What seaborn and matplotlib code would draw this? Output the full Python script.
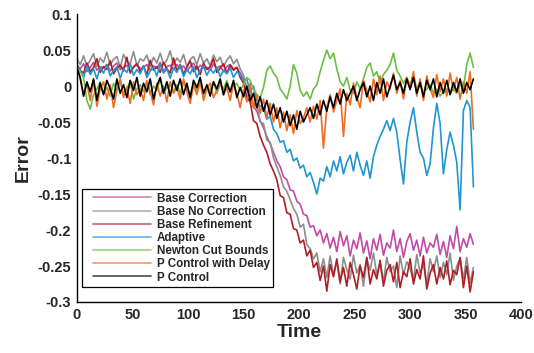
import numpy as np
import pandas as pd
import matplotlib
matplotlib.use("Agg")
import matplotlib.pyplot as plt
import seaborn as sns
from matplotlib.lines import Line2D

sns.set_style("white")
plt.rcParams["font.family"] = ["Liberation Sans", "DejaVu Sans"]
plt.rcParams["font.weight"] = "bold"

time_s = np.arange(0, 358, 3)

base_correction = [
    0.028, 0.024, 0.031, 0.020, 0.026, 0.033, 0.022, 0.027, 0.025, 0.030,
    0.021, 0.028, 0.032, 0.023, 0.026, 0.029, 0.020, 0.027, 0.031, 0.024,
    0.026, 0.030, 0.022, 0.028, 0.025, 0.033, 0.021, 0.027, 0.029, 0.023,
    0.030, 0.024, 0.028, 0.021, 0.027, 0.032, 0.023, 0.029, 0.025, 0.026,
    0.022, 0.031, 0.025, 0.028, 0.020, 0.027, 0.030, 0.024, 0.026, 0.018,
    0.010, -0.005, -0.015, -0.028, -0.035, -0.048, -0.058, -0.070, -0.080, -0.092,
    -0.104, -0.112, -0.126, -0.130, -0.144, -0.146, -0.160, -0.164, -0.178, -0.180,
    -0.196, -0.194, -0.208, -0.200, -0.218, -0.205, -0.225, -0.210, -0.230, -0.202,
    -0.222, -0.208, -0.236, -0.214, -0.226, -0.204, -0.232, -0.215, -0.240, -0.212,
    -0.228, -0.206, -0.235, -0.218, -0.225, -0.200, -0.230, -0.212, -0.238, -0.216,
    -0.205, -0.228, -0.214, -0.236, -0.210, -0.232, -0.218, -0.224, -0.206, -0.234,
    -0.216, -0.238, -0.208, -0.226, -0.195, -0.230, -0.212, -0.224, -0.205, -0.220,
]

base_no_correction = [
    0.038, 0.030, 0.042, 0.028, 0.036, 0.045, 0.027, 0.039, 0.033, 0.047,
    0.029, 0.037, 0.041, 0.026, 0.044, 0.034, 0.031, 0.048, 0.028, 0.038,
    0.035, 0.043, 0.027, 0.040, 0.032, 0.046, 0.030, 0.036, 0.049, 0.029,
    0.039, 0.033, 0.044, 0.027, 0.037, 0.041, 0.030, 0.045, 0.032, 0.038,
    0.028, 0.043, 0.034, 0.040, 0.027, 0.036, 0.042, 0.031, 0.037, 0.024,
    0.015, -0.003, -0.010, -0.030, -0.025, -0.050, -0.052, -0.075, -0.078, -0.100,
    -0.112, -0.124, -0.140, -0.146, -0.158, -0.170, -0.178, -0.196, -0.192, -0.220,
    -0.226, -0.240, -0.232, -0.258, -0.240, -0.266, -0.236, -0.262, -0.244, -0.275,
    -0.238, -0.255, -0.268, -0.235, -0.260, -0.248, -0.278, -0.240, -0.256, -0.232,
    -0.262, -0.246, -0.272, -0.238, -0.258, -0.250, -0.280, -0.236, -0.262, -0.244,
    -0.254, -0.270, -0.234, -0.260, -0.248, -0.276, -0.240, -0.258, -0.236, -0.266,
    -0.245, -0.262, -0.232, -0.270, -0.250, -0.240, -0.268, -0.238, -0.274, -0.252,
]

base_refinement = [
    0.030, 0.022, 0.018, 0.032, 0.020, 0.026, 0.038, 0.019, 0.027, 0.023,
    0.035, 0.017, 0.025, 0.029, 0.021, 0.040, 0.018, 0.026, 0.031, 0.020,
    0.028, 0.016, 0.036, 0.022, 0.027, 0.019, 0.033, 0.024, 0.018, 0.039,
    0.021, 0.030, 0.017, 0.026, 0.035, 0.020, 0.028, 0.016, 0.032, 0.023,
    0.027, 0.038, 0.019, 0.025, 0.031, 0.018, 0.029, 0.022, 0.026, 0.012,
    0.004, -0.016, -0.022, -0.048, -0.052, -0.070, -0.082, -0.092, -0.108, -0.118,
    -0.130, -0.152, -0.155, -0.176, -0.178, -0.198, -0.200, -0.218, -0.214, -0.236,
    -0.228, -0.252, -0.245, -0.270, -0.250, -0.285, -0.248, -0.265, -0.240, -0.272,
    -0.252, -0.278, -0.245, -0.262, -0.282, -0.250, -0.266, -0.238, -0.275, -0.255,
    -0.268, -0.242, -0.278, -0.256, -0.248, -0.272, -0.245, -0.280, -0.258, -0.265,
    -0.240, -0.275, -0.255, -0.268, -0.236, -0.282, -0.260, -0.248, -0.275, -0.252,
    -0.268, -0.243, -0.276, -0.256, -0.262, -0.238, -0.280, -0.250, -0.286, -0.258,
]

adaptive = [
    0.030, 0.022, 0.012, 0.028, 0.016, 0.024, 0.010, 0.026, 0.018, 0.030,
    0.014, 0.022, 0.027, 0.011, 0.024, 0.019, 0.031, 0.015, 0.023, 0.017,
    0.028, 0.012, 0.021, 0.026, 0.014, 0.030, 0.018, 0.024, 0.011, 0.025,
    0.019, 0.029, 0.013, 0.023, 0.017, 0.027, 0.012, 0.022, 0.028, 0.015,
    0.024, 0.018, 0.026, 0.013, 0.022, 0.017, 0.025, 0.012, 0.020, 0.016,
    0.008, 0.010, -0.008, 0.000, -0.020, -0.028, -0.030, -0.046, -0.042, -0.060,
    -0.066, -0.078, -0.076, -0.092, -0.088, -0.104, -0.100, -0.114, -0.110, -0.126,
    -0.120, -0.134, -0.150, -0.128, -0.132, -0.112, -0.126, -0.104, -0.118, -0.098,
    -0.122, -0.106, -0.096, -0.118, -0.092, -0.110, -0.124, -0.104, -0.128, -0.098,
    -0.082, -0.070, -0.060, -0.048, -0.062, -0.045, -0.064, -0.102, -0.136, -0.078,
    -0.050, -0.030, -0.064, -0.092, -0.100, -0.124, -0.108, -0.058, -0.024, -0.052,
    -0.122, -0.088, -0.064, -0.082, -0.106, -0.172, -0.034, -0.020, -0.030, -0.140,
]

newton_cut_bounds = [
    0.025, 0.020, 0.012, -0.020, -0.032, -0.012, -0.004, 0.006, -0.010, -0.002,
    -0.014, 0.004, -0.006, 0.008, -0.012, -0.002, 0.006, -0.018, -0.004, 0.002,
    -0.008, 0.006, -0.012, 0.000, -0.006, 0.010, -0.010, -0.002, 0.004, -0.008,
    0.002, -0.010, 0.006, -0.004, -0.012, 0.004, -0.006, 0.008, -0.014, 0.000,
    -0.006, 0.006, -0.010, 0.002, -0.004, 0.008, -0.008, 0.000, 0.004, -0.006,
    0.002, 0.012, 0.008, -0.004, -0.012, -0.016, -0.002, 0.022, 0.028, 0.018,
    0.012, -0.004, -0.010, -0.018, 0.000, 0.030, 0.018, -0.006, -0.014, -0.008,
    -0.018, -0.004, 0.002, 0.020, 0.036, 0.050, 0.038, 0.046, 0.024, 0.006,
    0.000, 0.012, -0.006, -0.010, 0.006, -0.004, 0.010, 0.026, 0.032, 0.014,
    0.020, 0.004, 0.016, 0.022, 0.030, 0.046, 0.022, 0.014, 0.004, 0.012,
    0.000, 0.016, -0.004, 0.006, -0.010, -0.004, 0.002, -0.010, -0.004, -0.014,
    -0.008, -0.004, -0.010, -0.004, -0.010, 0.002, -0.004, 0.030, 0.046, 0.026,
]

p_control_delay = [
    0.028, 0.010, -0.012, 0.004, -0.020, 0.008, -0.028, -0.004, 0.006, -0.018,
    0.002, -0.030, -0.006, 0.010, -0.016, -0.002, -0.024, 0.006, -0.012, -0.004,
    -0.020, 0.008, -0.008, -0.026, 0.004, -0.014, 0.000, -0.022, 0.006, -0.010,
    -0.002, -0.018, 0.010, -0.008, -0.024, 0.002, -0.012, 0.006, -0.020, -0.004,
    0.004, -0.016, -0.006, 0.008, -0.012, -0.002, -0.020, 0.004, -0.010, -0.030,
    -0.005, -0.022, 0.004, -0.030, -0.012, -0.038, -0.018, -0.044, -0.024, -0.050,
    -0.030, -0.058, -0.036, -0.062, -0.040, -0.066, -0.034, -0.052, -0.044, -0.030,
    -0.050, -0.028, -0.046, -0.020, -0.086, -0.030, -0.012, -0.036, -0.020, -0.004,
    -0.070, -0.010, -0.026, 0.004, -0.016, -0.030, 0.008, -0.006, -0.022, 0.010,
    -0.012, 0.014, -0.020, 0.006, -0.004, 0.018, -0.010, 0.008, -0.018, 0.012,
    -0.002, 0.020, -0.014, 0.010, -0.020, 0.014, -0.004, -0.016, 0.016, -0.008,
    0.010, -0.014, 0.018, -0.006, 0.012, -0.018, 0.006, -0.010, 0.020, -0.060,
]

p_control = [
    0.025, 0.012, -0.014, 0.006, -0.008, 0.010, -0.020, 0.004, -0.012, 0.008,
    -0.004, -0.018, 0.010, -0.010, 0.002, -0.016, 0.008, -0.006, 0.012, -0.014,
    0.004, -0.008, 0.010, -0.018, 0.000, 0.012, -0.010, 0.006, -0.014, 0.008,
    -0.006, 0.010, -0.012, 0.004, -0.016, 0.008, -0.002, 0.012, -0.010, 0.002,
    -0.014, 0.006, -0.004, 0.010, -0.012, 0.004, -0.008, 0.008, -0.016, -0.002,
    -0.015, 0.000, -0.020, -0.010, -0.030, -0.015, -0.035, -0.020, -0.040, -0.025,
    -0.045, -0.030, -0.050, -0.035, -0.055, -0.040, -0.060, -0.035, -0.050, -0.040,
    -0.030, -0.045, -0.025, -0.040, -0.020, -0.035, -0.015, -0.030, -0.010, -0.025,
    -0.005, -0.020, -0.010, 0.000, -0.020, -0.005, 0.005, -0.015, 0.000, -0.020,
    0.005, -0.010, 0.010, -0.015, 0.000, 0.015, -0.005, 0.005, -0.010, 0.010,
    -0.005, 0.012, -0.010, 0.005, -0.015, 0.008, -0.005, 0.010, -0.015, 0.005,
    -0.010, 0.008, -0.012, 0.005, -0.008, 0.010, -0.010, 0.005, -0.005, 0.010,
]

series_names = ["Base Correction", "Base No Correction", "Base Refinement",
                "Adaptive", "Newton Cut Bounds", "P Control with Delay", "P Control"]
series_values = [base_correction, base_no_correction, base_refinement,
                 adaptive, newton_cut_bounds, p_control_delay, p_control]
series_colors = ["#C04BA8", "#8E8E8E", "#B01E23", "#1F96D2",
                 "#6CBF45", "#F26B22", "#000000"]

df = pd.concat([pd.DataFrame({"Time": time_s, "Error": v, "Series": n})
                for n, v in zip(series_names, series_values)], ignore_index=True)

fig = plt.figure(figsize=(5.34, 3.53), dpi=100)
ax = fig.add_axes([0.144, 0.1445, 0.832, 0.8155])

sns.lineplot(data=df, x="Time", y="Error", hue="Series", hue_order=series_names,
             palette=dict(zip(series_names, series_colors)), estimator=None,
             sort=False, linewidth=1.2, ax=ax, legend=False)

ax.set_xlim(0, 400)
ax.set_ylim(-0.3, 0.1)
ax.set_xticks(np.arange(0, 401, 50))
yt = [-0.3, -0.25, -0.2, -0.15, -0.1, -0.05, 0, 0.05, 0.1]
ax.set_yticks(yt)
ax.set_yticklabels([f"{v:g}" for v in yt])
ax.tick_params(direction="in", length=4, width=1, labelsize=10.5, color="black",
               pad=4)
for lab in ax.get_xticklabels() + ax.get_yticklabels():
    lab.set_fontweight("bold")
for s in ["top", "right"]:
    ax.spines[s].set_visible(False)
for s in ["left", "bottom"]:
    ax.spines[s].set_color("black")
    ax.spines[s].set_linewidth(1)

ax.set_xlabel("Time", fontsize=14, fontweight="bold", labelpad=2)
ax.set_ylabel("Error", fontsize=14, fontweight="bold", labelpad=4)

handles = [Line2D([0], [0], color=c, lw=1.2, alpha=0.7) for c in series_colors]
leg = ax.legend(handles, series_names, loc="lower left",
                bbox_to_anchor=(0.0113, 0.052), fancybox=False, framealpha=1,
                edgecolor="black", prop={"size": 8.4, "weight": "bold"},
                handlelength=5.6, labelspacing=0.1, borderpad=0.3,
                handletextpad=0.5, borderaxespad=0)
leg.get_frame().set_linewidth(0.9)
for ln in leg.get_lines():
    xd = list(ln.get_xdata())
    ln.set_xdata([xd[0] + 5.5, xd[-1]])
    ln.set_ydata([ln.get_ydata()[0]] * 2)

fig.savefig("out.png", dpi=100)
